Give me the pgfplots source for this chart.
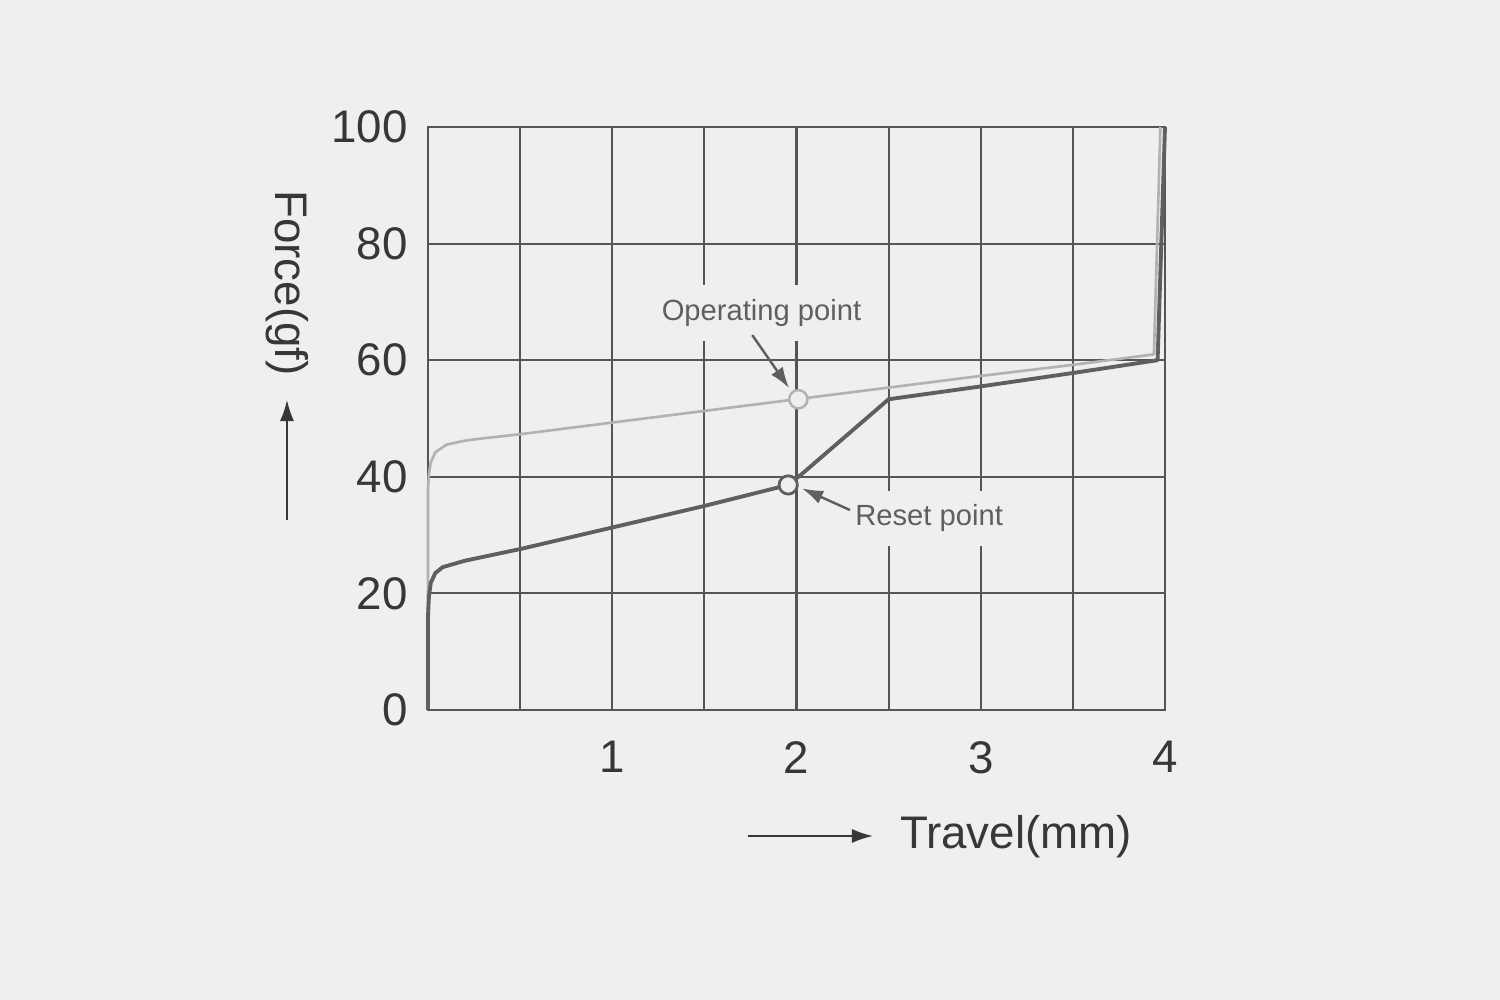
\documentclass[border=0pt]{standalone}
\usepackage{pgfplots}
\pgfplotsset{compat=1.18}
\usepackage{fontspec}
\setmainfont{Liberation Sans}
\usetikzlibrary{arrows.meta}
\definecolor{bg}{RGB}{239,239,239}
\definecolor{gridc}{RGB}{85,85,85}
\definecolor{darkc}{RGB}{95,95,95}
\definecolor{lightc}{RGB}{178,178,178}
\definecolor{txt}{RGB}{55,55,55}
\begin{document}
\begin{tikzpicture}
\fill[bg] (0,0) rectangle (15,10);
\useasboundingbox (0,0) rectangle (15,10);
\begin{axis}[
  at={(4.28cm,2.90cm)}, anchor=south west,
  scale only axis, width=7.37cm, height=5.83cm,
  xmin=0, xmax=4, ymin=0, ymax=100,
  xtick={0,0.5,...,4}, xticklabels={,,1,,2,,3,,4},
  ytick={0,20,...,100},
  grid=major, major grid style={gridc, line width=0.6pt},
  axis line style={gridc, line width=0.6pt},
  major tick length=0pt,
  tick label style={font=\fontsize{13}{15}\selectfont, text=txt},
  /pgf/number format/assume math mode=true,
  xticklabel style={yshift=-0.19cm},
  yticklabel style={xshift=-0.08cm},
  clip=false,
]
\addplot[lightc, line width=0.75pt, line join=round] coordinates {
(0,0) (0,38) (0.005,40.5) (0.015,42.5) (0.04,44.2) (0.1,45.5) (0.2,46.2) (0.3,46.6) (0.5,47.3) (1.0,49.3) (1.5,51.3) (2.0,53.3) (2.5,55.3) (3.0,57.3) (3.5,59.2) (3.94,61) (3.975,100)};
\addplot[darkc, line width=1.1pt, line join=round] coordinates {
(0,0) (0,16) (0.005,19.5) (0.015,21.8) (0.04,23.5) (0.08,24.5) (0.2,25.6) (0.5,27.6) (1.0,31.3) (1.5,35) (1.955,38.6) (2.03,40.5) (2.5,53.3) (3.0,55.5) (3.5,57.8) (3.96,60) (4.0,100)};
\addplot[only marks, mark=*, mark size=2.6pt, mark options={fill=bg, draw=lightc, line width=0.7pt}] coordinates {(2.01,53.3)};
\addplot[only marks, mark=*, mark size=2.6pt, mark options={fill=bg, draw=darkc, line width=0.8pt}] coordinates {(1.955,38.6)};
\node[text=darkc, fill=bg, inner xsep=1pt, inner ysep=4pt, font=\fontsize{8.3}{10}\selectfont] at (axis cs:1.81,68.1) {Operating point};
\node[text=darkc, fill=bg, inner xsep=1pt, inner ysep=4pt, font=\fontsize{8.3}{10}\selectfont] at (axis cs:2.72,32.9) {Reset point};
\draw[-{Latex[length=6pt,width=4pt]}, darkc, line width=0.7pt] (axis cs:1.76,64.3) -- (axis cs:1.96,55.2);
\draw[-{Latex[length=6pt,width=4pt]}, darkc, line width=0.7pt] (axis cs:2.29,34.3) -- (axis cs:2.03,38.0);
\end{axis}
\node[rotate=-90, text=txt, font=\fontsize{13}{15}\selectfont] at (2.87,7.17) {Force(gf)};
\draw[-{Latex[length=6pt,width=4pt]}, txt, line width=0.5pt] (2.87,4.80) -- (2.87,6.00);
\node[text=txt, font=\fontsize{13}{15}\selectfont] at (10.16,1.63) {Travel(mm)};
\draw[-{Latex[length=6pt,width=4pt]}, txt, line width=0.5pt] (7.48,1.64) -- (8.73,1.64);
\end{tikzpicture}
\end{document}
